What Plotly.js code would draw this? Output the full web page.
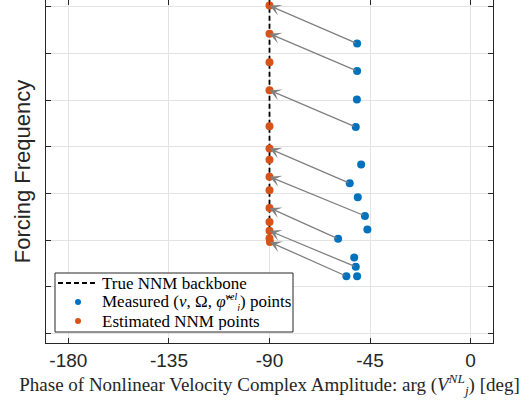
<!DOCTYPE html>
<html>
<head>
<meta charset="utf-8">
<script src="https://cdn.plot.ly/plotly-3.0.1.min.js"></script>
<style>html,body{margin:0;padding:0;background:#fff;}#chart{width:532px;height:406px;}</style>
</head>
<body>
<div id="chart"></div>
<script>
// Measured points (phase in deg, forcing frequency in arbitrary units)
const measuredPhase = [-50.8, -50.8, -50.9, -51.4, -49.0, -54.1, -50.5, -47.3, -46.2, -59.3, -52.1, -51.4, -55.6, -50.8];
const measuredFreq  = [6.21, 5.62, 5.01, 4.42, 3.62, 3.22, 2.92, 2.52, 2.23, 2.03, 1.63, 1.43, 1.23, 1.23];
// Estimated NNM points
const estimatedPhase = [-90, -90, -90, -90, -90, -90, -90, -90, -90, -90, -90, -90, -90, -89.8];
const estimatedFreq  = [7.02, 6.42, 5.81, 5.21, 4.44, 3.96, 3.72, 3.36, 3.07, 2.69, 2.39, 2.20, 2.04, 1.96];
// True NNM backbone
const backbonePhase = [-90, -90];
const backboneFreq  = [1.9, 7.6];
// Arrows: measured index -> estimated index
const arrowFrom = [0, 1, 3, 5, 7, 9, 11, 12];
const arrowTo   = [0, 1, 3, 5, 7, 9, 11, 13];
// Axis ticks
const xTickVals = [-180, -135, -90, -45, 0];
const xTickText = ['-180', '-135', '-90', '-45', '0'];
const yTickVals = [0, 1, 2, 3, 4, 5, 6, 7];
// Legend labels
const legendLabels = [
  'True NNM backbone',
  'Measured (<i>v</i>, Ω, <i>φ̃</i><sup><span style="font-size:10px"><i>vel</i></span></sup><sub><span style="font-size:10px"><i>j</i></span></sub>) points',
  'Estimated NNM points'
];

const blue = '#0072BD', orange = '#D95319';
const serif = 'Liberation Serif, Times New Roman, serif';

// plot area in pixels (for placing legend box)
const L = 46, R = 493, T = 0, B = 343;
const px = v => (v - L) / (R - L);
const py = v => (B - v) / (B - T);

const traces = [
  {x: backbonePhase, y: backboneFreq, mode: 'lines', type: 'scatter',
   line: {color: '#000000', width: 1.8, dash: '5px,3px'}, name: legendLabels[0], showlegend: false},
  {x: measuredPhase, y: measuredFreq, mode: 'markers', type: 'scatter',
   marker: {color: blue, size: 8}, name: legendLabels[1], showlegend: false},
  {x: estimatedPhase, y: estimatedFreq, mode: 'markers', type: 'scatter',
   marker: {color: orange, size: 8}, name: legendLabels[2], showlegend: false}
];

const annotations = arrowFrom.map((fi, k) => ({
  x: estimatedPhase[arrowTo[k]], y: estimatedFreq[arrowTo[k]],
  ax: measuredPhase[fi], ay: measuredFreq[fi],
  xref: 'x', yref: 'y', axref: 'x', ayref: 'y',
  text: '', showarrow: true, arrowhead: 3, arrowsize: 1.5, arrowwidth: 1.3,
  arrowcolor: '#808080', standoff: 0, startstandoff: 0
}));

// legend (box, samples and labels)
const rowY = [283, 302, 321];
const textX = 101;
rowY.forEach((yy, i) => annotations.push({
  xref: 'paper', yref: 'paper', x: px(textX), y: py(yy), xanchor: 'left', yanchor: 'middle',
  height: 18, valign: 'middle', borderpad: 0,
  text: legendLabels[i], showarrow: false, font: {family: serif, size: 17, color: '#000000'}
}));

const shapes = [
  {type: 'rect', xref: 'paper', yref: 'paper', x0: px(55), x1: px(293), y0: py(332), y1: py(273),
   line: {color: '#262626', width: 1}, fillcolor: '#ffffff', layer: 'above'},
  {type: 'line', xref: 'paper', yref: 'paper', x0: px(58), x1: px(97), y0: py(rowY[0]), y1: py(rowY[0]),
   line: {color: '#000000', width: 1.8, dash: '5px,3px'}, layer: 'above'},
  {type: 'circle', xref: 'paper', yref: 'paper', x0: px(75), x1: px(81), y0: py(rowY[1] + 3), y1: py(rowY[1] - 3),
   line: {color: blue, width: 0}, fillcolor: blue, layer: 'above'},
  {type: 'circle', xref: 'paper', yref: 'paper', x0: px(75), x1: px(81), y0: py(rowY[2] + 3), y1: py(rowY[2] - 3),
   line: {color: orange, width: 0}, fillcolor: orange, layer: 'above'}
];

const layout = {
  width: 532, height: 406,
  margin: {l: L, r: 532 - R, t: T, b: 406 - B},
  paper_bgcolor: '#ffffff', plot_bgcolor: '#ffffff',
  showlegend: false,
  xaxis: {
    range: [-190, 10], tickvals: xTickVals, ticktext: xTickText,
    ticks: 'inside', ticklen: 5, tickcolor: '#262626', showline: true, mirror: 'ticks',
    linecolor: '#262626', linewidth: 1, showgrid: true, gridcolor: '#e3e3e3', zeroline: false,
    tickfont: {family: 'Liberation Sans, Arial, sans-serif', size: 19, color: '#262626'},
    title: {text: 'Phase of Nonlinear Velocity Complex Amplitude: arg (<i>V</i><sup><i>NL</i></sup><sub><i>j</i></sub>) [deg]',
      font: {family: serif, size: 19, color: '#262626'}, standoff: 4}
  },
  yaxis: {
    range: [-0.2, 7.14], tickvals: yTickVals, showticklabels: false,
    ticks: 'inside', ticklen: 5, tickcolor: '#262626', showline: true, mirror: 'ticks',
    linecolor: '#262626', linewidth: 1, showgrid: true, gridcolor: '#e3e3e3', zeroline: false,
    title: {text: 'Forcing Frequency', font: {family: 'Liberation Sans, Arial, sans-serif', size: 22, color: '#262626'}, standoff: 8}
  },
  annotations: annotations,
  shapes: shapes
};

Plotly.newPlot('chart', traces, layout, {displayModeBar: false, staticPlot: true});
</script>
</body>
</html>
